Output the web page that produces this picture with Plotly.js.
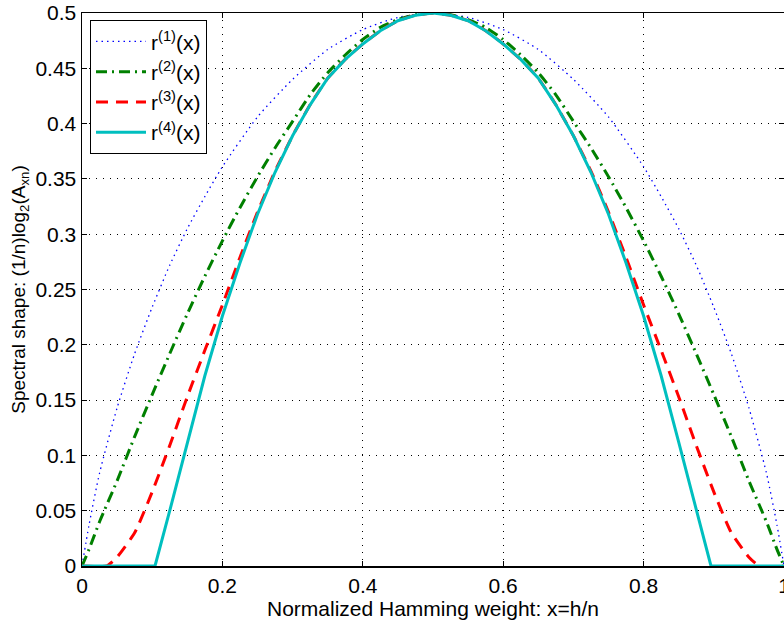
<!DOCTYPE html>
<html>
<head>
<meta charset="utf-8">
<script src="https://cdn.plot.ly/plotly-3.0.1.min.js"></script>
<style>html,body{margin:0;padding:0;background:#fff;}#chart{width:784px;height:622px;}</style>
</head>
<body>
<div id="chart"></div>
<script>
// ---- data ----
const seriesNames = ["r<sup>(1)</sup>(x)", "r<sup>(2)</sup>(x)", "r<sup>(3)</sup>(x)", "r<sup>(4)</sup>(x)"];

const x1 = [0, 0.01, 0.025, 0.05, 0.075, 0.1, 0.125, 0.15, 0.175, 0.2, 0.25, 0.3, 0.35, 0.4, 0.45, 0.5,
            0.55, 0.6, 0.65, 0.7, 0.75, 0.8, 0.825, 0.85, 0.875, 0.9, 0.925, 0.95, 0.975, 0.99, 1];
const r1 = [0, 0.037, 0.084, 0.143, 0.192, 0.234, 0.272, 0.305, 0.334, 0.361, 0.406, 0.440, 0.467, 0.485, 0.496, 0.5,
            0.496, 0.485, 0.467, 0.440, 0.406, 0.361, 0.334, 0.305, 0.272, 0.234, 0.192, 0.143, 0.084, 0.037, 0];

const x2 = [0, 0.01, 0.025, 0.05, 0.075, 0.1, 0.125, 0.15, 0.175, 0.2, 0.225, 0.25, 0.275, 0.3, 0.325, 0.35, 0.375, 0.4, 0.425, 0.45, 0.475, 0.5,
            0.525, 0.55, 0.575, 0.6, 0.625, 0.65, 0.675, 0.7, 0.725, 0.75, 0.775, 0.8, 0.825, 0.85, 0.875, 0.9, 0.925, 0.95, 0.975, 0.99, 1];
const r2 = [0, 0.015, 0.040, 0.077, 0.117, 0.155, 0.192, 0.228, 0.262, 0.294, 0.324, 0.352, 0.378, 0.402, 0.426, 0.446, 0.462, 0.476, 0.487, 0.494, 0.4985, 0.5,
            0.4985, 0.494, 0.487, 0.476, 0.462, 0.446, 0.426, 0.402, 0.378, 0.352, 0.324, 0.294, 0.262, 0.228, 0.192, 0.155, 0.117, 0.077, 0.040, 0.015, 0];

const x3 = [0, 0.035, 0.05, 0.075, 0.1, 0.125, 0.15, 0.175, 0.2, 0.225, 0.25, 0.275, 0.3, 0.325, 0.35, 0.375, 0.4, 0.425, 0.45, 0.475, 0.5,
            0.525, 0.55, 0.575, 0.6, 0.625, 0.65, 0.675, 0.7, 0.725, 0.75, 0.775, 0.8, 0.825, 0.85, 0.875, 0.9, 0.925, 0.95, 0.965, 1];
const r3 = [0, 0, 0.008, 0.030, 0.067, 0.109, 0.153, 0.195, 0.236, 0.279, 0.320, 0.357, 0.389, 0.417, 0.441, 0.458, 0.472, 0.484, 0.493, 0.498, 0.5,
            0.498, 0.493, 0.484, 0.472, 0.458, 0.441, 0.417, 0.389, 0.357, 0.320, 0.279, 0.236, 0.195, 0.153, 0.109, 0.067, 0.030, 0.008, 0, 0];

const x4 = [0, 0.104, 0.125, 0.15, 0.175, 0.2, 0.225, 0.25, 0.275, 0.3, 0.325, 0.35, 0.375, 0.4, 0.425, 0.45, 0.475, 0.5,
            0.525, 0.55, 0.575, 0.6, 0.625, 0.65, 0.675, 0.7, 0.725, 0.75, 0.775, 0.8, 0.825, 0.85, 0.875, 0.896, 1];
const r4 = [0, 0, 0.050, 0.112, 0.172, 0.226, 0.274, 0.318, 0.356, 0.389, 0.417, 0.441, 0.458, 0.472, 0.484, 0.493, 0.498, 0.5,
            0.498, 0.493, 0.484, 0.472, 0.458, 0.441, 0.417, 0.389, 0.356, 0.318, 0.274, 0.226, 0.172, 0.112, 0.050, 0, 0];

const xTickVals = [0, 0.2, 0.4, 0.6, 0.8, 1];
const xTickText = ["0", "0.2", "0.4", "0.6", "0.8", "1"];
const yTickVals = [0, 0.05, 0.1, 0.15, 0.2, 0.25, 0.3, 0.35, 0.4, 0.45, 0.5];
const yTickText = ["0", "0.05", "0.1", "0.15", "0.2", "0.25", "0.3", "0.35", "0.4", "0.45", "0.5"];

const xTitle = "Normalized Hamming weight: x=h/n";
const yTitle = "Spectral shape: (1/n)log<sub>2</sub>(A<sub>xn</sub>)";

// ---- drawing ----
const FONT = "Liberation Sans, Arial, Helvetica, sans-serif";
const traces = [
  {x: x1, y: r1, name: seriesNames[0], mode: "lines", line: {color: "#0000ff", width: 1.3, dash: "1.5px,4px", shape: "spline", smoothing: 0.6}},
  {x: x2, y: r2, name: seriesNames[1], mode: "lines", line: {color: "#008000", width: 3, dash: "11px,5px,2px,5px", shape: "spline", smoothing: 0.6}},
  {x: x3, y: r3, name: seriesNames[2], mode: "lines", line: {color: "#ff0000", width: 3, dash: "12px,8px", shape: "spline", smoothing: 0.5}},
  {x: x4, y: r4, name: seriesNames[3], mode: "lines", line: {color: "#00bfbf", width: 3, shape: "linear"}}
];

const axisCommon = {
  showline: true, linecolor: "#000", linewidth: 1.5, mirror: "ticks",
  ticks: "inside", ticklen: 5, tickwidth: 1, tickcolor: "#000",
  showgrid: true, gridcolor: "#000", gridwidth: 1, griddash: "1px,6px",
  zeroline: false, ticklabeloverflow: "allow",
  tickfont: {family: FONT, size: 21, color: "#000"}
};

const layout = {
  width: 784, height: 622,
  margin: {l: 82, r: 0, t: 13, b: 56},
  paper_bgcolor: "#fff", plot_bgcolor: "#fff",
  font: {family: FONT, size: 21, color: "#000"},
  showlegend: true,
  xaxis: Object.assign({}, axisCommon, {
    range: [0, 1], tickmode: "array", tickvals: xTickVals, ticktext: xTickText,
    title: {text: xTitle, font: {family: FONT, size: 21, color: "#000"}, standoff: 0}
  }),
  yaxis: Object.assign({}, axisCommon, {
    range: [0, 0.5], tickmode: "array", tickvals: yTickVals, ticktext: yTickText,
    title: {text: yTitle, font: {family: FONT, size: 19, color: "#000"}, standoff: 5}
  }),
  legend: {
    x: 0.0114, y: 0.987, xanchor: "left", yanchor: "top",
    bgcolor: "#fff", bordercolor: "#000", borderwidth: 1,
    font: {family: FONT, size: 21, color: "#000"}, itemwidth: 50, tracegroupgap: 0
  }
};

Plotly.newPlot("chart", traces, layout, {staticPlot: true, displayModeBar: false});
</script>
</body>
</html>
